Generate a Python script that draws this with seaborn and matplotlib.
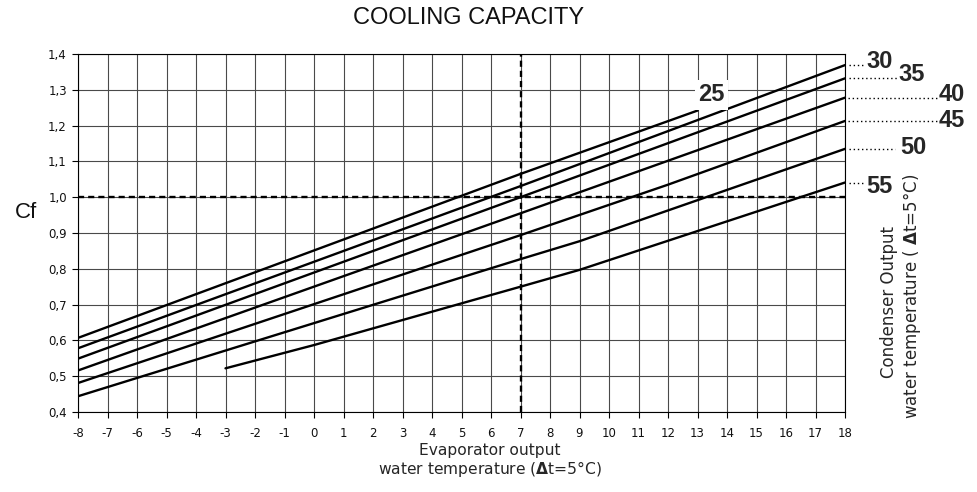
import numpy as np
import pandas as pd
import matplotlib
matplotlib.use("Agg")
import matplotlib.pyplot as plt
import seaborn as sns

# ---------------- data ----------------
cond_labels = ["25", "30", "35", "40", "45", "50", "55"]
t25 = [-8, 7, 13];            cf25 = [0.607, 1.065, 1.242]
t30 = [-8, 7, 18];            cf30 = [0.578, 1.031, 1.369]
t35 = [-8, 7, 18];            cf35 = [0.549, 1.000, 1.332]
t40 = [-8, 7, 18];            cf40 = [0.516, 0.955, 1.278]
t45 = [-8, 7, 12, 18];        cf45 = [0.481, 0.894, 1.035, 1.213]
t50 = [-8, 7, 9, 18];         cf50 = [0.444, 0.827, 0.877, 1.135]
t55 = [-3, 0, 7, 9, 18];      cf55 = [0.522, 0.587, 0.750, 0.797, 1.041]

ref_t = 7
ref_cf = 1.0

x_ticks = list(range(-8, 19))
x_ticklabels = [str(v) for v in x_ticks]
y_ticks = [0.4, 0.5, 0.6, 0.7, 0.8, 0.9, 1.0, 1.1, 1.2, 1.3, 1.4]
y_ticklabels = ["0,4", "0,5", "0,6", "0,7", "0,8", "0,9", "1,0", "1,1", "1,2", "1,3", "1,4"]

title = "COOLING CAPACITY"
ylabel = "Cf"
xlabel1 = "Evaporator output"
xlabel2 = r"water temperature ($\mathbf{\Delta}$t=5°C)"
rlabel1 = "Condenser Output"
rlabel2 = r"water temperature ( $\mathbf{\Delta}$t=5°C)"

ts = [t25, t30, t35, t40, t45, t50, t55]
cfs = [cf25, cf30, cf35, cf40, cf45, cf50, cf55]
df = pd.concat(
    [pd.DataFrame({"t": t, "cf": c, "cond": lab}) for t, c, lab in zip(ts, cfs, cond_labels)],
    ignore_index=True,
)

# ---------------- style ----------------
sns.set_theme(style="white")
plt.rcParams["font.family"] = ["DejaVu Sans"]
plt.rcParams["axes.unicode_minus"] = False
plt.rcParams["mathtext.fontset"] = "dejavusans"

W, H = 977, 492
fig = plt.figure(figsize=(W / 100, H / 100), dpi=100)
L_px, R_px, T_px, B_px = 78, 845, 54, 412
ax = fig.add_axes([L_px / W, 1 - B_px / H, (R_px - L_px) / W, (B_px - T_px) / H])

sns.lineplot(data=df, x="t", y="cf", units="cond", estimator=None, sort=False,
             color="black", linewidth=1.7, ax=ax, legend=False)

dash = (0, (2.6, 1.7))
ax.axhline(ref_cf, color="black", lw=1.7, ls=dash, zorder=3)
ax.axvline(ref_t, color="black", lw=1.7, ls=dash, zorder=3)

ax.set_xlim(-8, 18)
ax.set_ylim(0.4, 1.4)
ax.set_xticks(x_ticks)
ax.set_xticklabels(x_ticklabels)
ax.set_yticks(y_ticks)
ax.set_yticklabels(y_ticklabels)
ax.set_xlabel("")
ax.set_ylabel("")
ax.grid(True, color="#4a4a4a", lw=0.8)
ax.set_axisbelow(True)
for s in ax.spines.values():
    s.set_color("black")
    s.set_linewidth(0.8)
ax.tick_params(bottom=True, left=True, direction="out", length=4, width=0.8,
               color="black", labelsize=8.5, labelcolor="#111111")
ax.tick_params(axis="x", pad=7)
ax.tick_params(axis="y", pad=4)

# ---------------- right-side condenser labels ----------------
ppu = (R_px - L_px) / 26.0  # pixels per x unit
lead = {"30": (4, 20, 21, -4), "35": (4, 52, 53, -4), "40": (3, 93, 94, -3),
        "45": (3, 93, 94, 0), "50": (4, 50, 55, -1), "55": (4, 18, 21, 4)}
for lab, t, c in zip(cond_labels, ts, cfs):
    xe, ye = t[-1], c[-1]
    if lab in lead:
        a, b, tx, dy = lead[lab]
        ax.plot([xe + a / ppu, xe + b / ppu], [ye, ye], color="black", lw=1.0,
                ls=(0, (1, 2)), clip_on=False)
        ax.annotate(lab, xy=(xe, ye), xytext=(tx, -dy), textcoords="offset pixels",
                    ha="left", va="center", fontsize=17, fontweight="bold",
                    family="Liberation Sans", annotation_clip=False)
    else:
        ax.annotate(lab, xy=(xe, ye), xytext=(14, 16), textcoords="offset pixels",
                    ha="center", va="center", fontsize=17, fontweight="bold",
                    family="Liberation Sans", annotation_clip=False, zorder=5,
                    bbox=dict(boxstyle="square,pad=0.15", fc="white", ec="none"))

# ---------------- texts ----------------
fig.text(469 / W, 1 - 17.5 / H, title, ha="center", va="center", fontsize=17,
         family="Liberation Sans", color="#111111")
fig.text(25.5 / W, 1 - 212.7 / H, ylabel, ha="center", va="center", fontsize=16,
         family="Liberation Sans", color="#111111")
fig.text(490 / W, 1 - 450 / H, xlabel1, ha="center", va="center", fontsize=11.2)
fig.text(490 / W, 1 - 469 / H, xlabel2, ha="center", va="center", fontsize=11.2)
fig.text(889 / W, 1 - 302 / H, rlabel1, ha="center", va="center", fontsize=12,
         rotation=90)
fig.text(912 / W, 1 - 296 / H, rlabel2, ha="center", va="center", fontsize=12,
         rotation=90)

fig.savefig("out.png", dpi=100)
